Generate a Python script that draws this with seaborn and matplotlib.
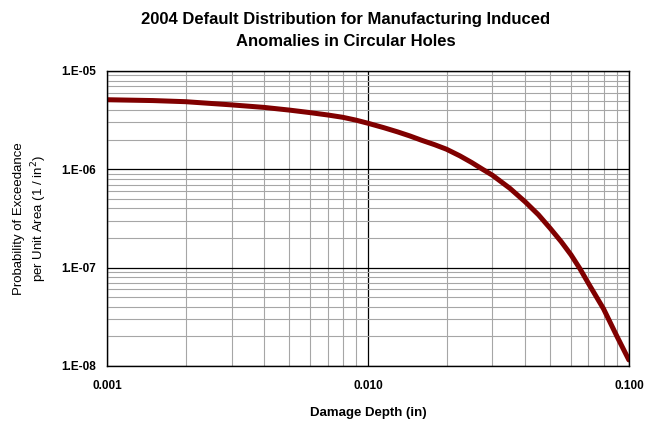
# Default anomaly distribution - exceedance curve (log-log)
import matplotlib
matplotlib.use("Agg")
import matplotlib.pyplot as plt
import matplotlib.ticker as mticker
import pandas as pd
import seaborn as sns

# values
depth = [0.001, 0.0015, 0.002, 0.003, 0.004, 0.005, 0.006, 0.007, 0.008, 0.009,
         0.010, 0.0115, 0.013, 0.0145, 0.016, 0.018, 0.020, 0.0225, 0.025, 0.0275,
         0.030, 0.035, 0.040, 0.045, 0.050, 0.055, 0.060, 0.065, 0.070, 0.080,
         0.090, 0.100]
prob = [5.10e-6, 5.00e-6, 4.87e-6, 4.52e-6, 4.26e-6, 4.00e-6, 3.77e-6, 3.57e-6, 3.38e-6, 3.16e-6,
        2.94e-6, 2.65e-6, 2.40e-6, 2.18e-6, 1.98e-6, 1.78e-6, 1.60e-6, 1.37e-6, 1.17e-6, 1.00e-6,
        8.70e-7, 6.40e-7, 4.68e-7, 3.45e-7, 2.50e-7, 1.84e-7, 1.35e-7, 9.70e-8, 6.90e-8, 3.80e-8,
        2.00e-8, 1.15e-8]

x_ticks = [0.001, 0.01, 0.1]
x_labels = ["0.001", "0.010", "0.100"]
y_ticks = [1e-8, 1e-7, 1e-6, 1e-5]
y_labels = ["1.E-08", "1.E-07", "1.E-06", "1.E-05"]

df = pd.DataFrame({"depth": depth, "prob": prob})

sns.set_style("white")
plt.rcParams["font.family"] = ["Liberation Sans", "DejaVu Sans"]
plt.rcParams["text.color"] = "black"
plt.rcParams["axes.labelcolor"] = "black"
plt.rcParams["xtick.color"] = "black"
plt.rcParams["ytick.color"] = "black"

fig = plt.figure(figsize=(6.45, 4.25), dpi=100)
ax = fig.add_axes([0.166, 0.139, 0.809, 0.694])

sns.lineplot(data=df, x="depth", y="prob", color="#800000", linewidth=3.6, ax=ax)

ax.set_xscale("log")
ax.set_yscale("log")
ax.set_xlim(0.001, 0.1)
ax.set_ylim(1e-8, 1e-5)

ax.set_xticks(x_ticks, labels=x_labels)
ax.set_yticks(y_ticks, labels=y_labels)
ax.xaxis.set_minor_locator(mticker.LogLocator(base=10, subs=range(2, 10)))
ax.yaxis.set_minor_locator(mticker.LogLocator(base=10, subs=range(2, 10)))
ax.xaxis.set_minor_formatter(mticker.NullFormatter())
ax.yaxis.set_minor_formatter(mticker.NullFormatter())

ax.grid(True, which="minor", color="#a6a6a6", linewidth=0.8)
ax.grid(True, which="major", color="black", linewidth=0.9)
ax.set_axisbelow(True)
ax.tick_params(which="both", length=0)
ax.tick_params(axis="x", pad=10, labelsize=8.5)
ax.tick_params(axis="y", pad=8, labelsize=8.5)
for lab in ax.get_xticklabels() + ax.get_yticklabels():
    lab.set_fontweight("bold")

for sp in ax.spines.values():
    sp.set_color("black")
    sp.set_linewidth(1.0)

ax.set_xlabel("Damage Depth (in)", fontsize=9.5, fontweight="bold", labelpad=11)
ax.set_ylabel("Probability of Exceedance\nper Unit Area (1 / in$^2$)", fontsize=9.5,
              labelpad=9, linespacing=1.3)

fig.text(0.536, 0.972, "2004 Default Distribution for Manufacturing Induced\nAnomalies in Circular Holes",
         ha="center", va="top", fontsize=12, fontweight="bold", linespacing=1.58)

fig.savefig("out.png", dpi=100, facecolor="white")
